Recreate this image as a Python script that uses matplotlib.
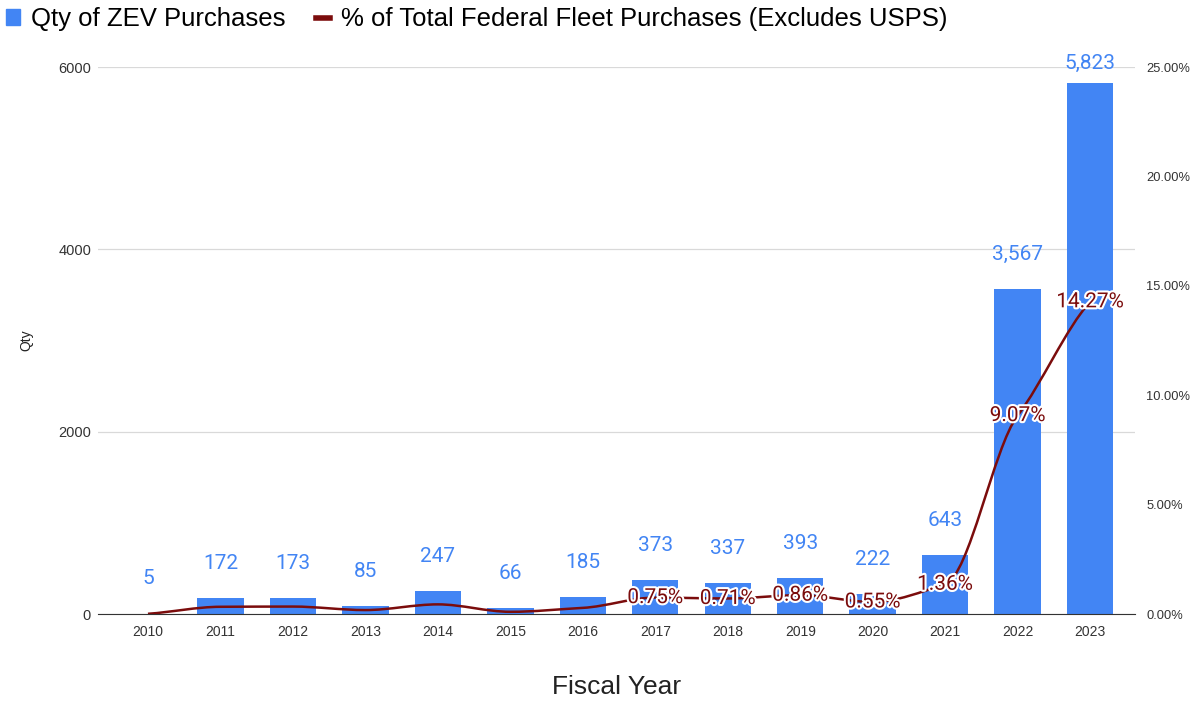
import numpy as np
import matplotlib
matplotlib.use("Agg")
import matplotlib.pyplot as plt
import matplotlib.patheffects as pe
from matplotlib.path import Path
from matplotlib.patches import PathPatch, Patch
from matplotlib.lines import Line2D

plt.rcParams['font.family'] = ['Liberation Sans', 'DejaVu Sans']

years = ["2010", "2011", "2012", "2013", "2014", "2015", "2016",
         "2017", "2018", "2019", "2020", "2021", "2022", "2023"]
qty = [5, 172, 173, 85, 247, 66, 185, 373, 337, 393, 222, 643, 3567, 5823]
pct = [0.01, 0.33, 0.34, 0.18, 0.44, 0.10, 0.28,
       0.75, 0.71, 0.86, 0.55, 1.36, 9.07, 14.27]
pct_labels = [None] * 7 + ["0.75%", "0.71%", "0.86%", "0.55%", "1.36%", "9.07%", "14.27%"]

BLUE = "#4285F4"
RED = "#7B0C0C"

fig = plt.figure(figsize=(11.93, 7.03), dpi=100)
ax = fig.add_axes([0.0821, 0.1266, 0.8693, 0.778])
ax2 = ax.twinx()

x = np.arange(len(years))
ax.bar(x, qty, width=0.64, color=BLUE, zorder=2)
for xi, v in zip(x, qty):
    off = 25 if v < 5500 else 14
    ax.annotate("{:,}".format(v), (xi, v), xytext=(0, off), textcoords="offset points",
                ha="center", va="center", color=BLUE, fontsize=15, family="Roboto")

ax.set_ylim(0, 6000)
ax.set_yticks([0, 2000, 4000, 6000])
ax.set_xlim(-0.69, 13.62)
ax.set_xticks(x)
ax.set_xticklabels(years)
ax.grid(axis="y", color="#d9d9d9", lw=0.9, zorder=0)
ax.set_axisbelow(True)
for s in ["top", "right", "left"]:
    ax.spines[s].set_visible(False)
ax.spines["bottom"].set_color("#333333")
ax.tick_params(axis="both", length=0, labelsize=10, colors="#333333")
ax.tick_params(axis="y", labelsize=10.5, pad=5)
ax.tick_params(axis="x", pad=8)
ax.set_ylabel("Qty", fontsize=10, color="#222222", labelpad=18)
ax.set_xlabel("Fiscal Year", fontsize=19, color="#222222", labelpad=26)

# smooth line through the points, monotone tangents so it does not overshoot
px = x.astype(float)
py = np.array(pct, dtype=float)
d = np.diff(py)
m = np.zeros_like(py)
m[0], m[-1] = d[0], d[-1]
for i in range(1, len(py) - 1):
    if d[i - 1] * d[i] > 0:
        m[i] = 2 * d[i - 1] * d[i] / (d[i - 1] + d[i])
m *= 0.7
verts = [(px[0], py[0])]
codes = [Path.MOVETO]
for i in range(len(py) - 1):
    verts += [(px[i] + 1 / 3, py[i] + m[i] / 3),
              (px[i + 1] - 1 / 3, py[i + 1] - m[i + 1] / 3),
              (px[i + 1], py[i + 1])]
    codes += [Path.CURVE4] * 3
ax2.add_patch(PathPatch(Path(verts, codes), facecolor="none", edgecolor=RED, lw=1.8, zorder=3))
ax2.set_ylim(0, 25)
ax2.set_yticks([0, 5, 10, 15, 20, 25])
ax2.set_yticklabels(["{:.2f}%".format(t) for t in [0, 5, 10, 15, 20, 25]])
ax2.tick_params(axis="y", length=0, labelsize=9.3, colors="#333333", pad=8)
for s in ["top", "right", "left", "bottom"]:
    ax2.spines[s].set_visible(False)

for xi, p, lab in zip(x, pct, pct_labels):
    if lab:
        ax2.text(xi, p, lab, ha="center", va="center", color=RED, fontsize=15,
                 family="Roboto", zorder=4,
                 path_effects=[pe.withStroke(linewidth=3, foreground="white")])

handles = [Patch(color=BLUE), Line2D([0], [0], color=RED, lw=4)]
fig.legend(handles, ["Qty of ZEV Purchases", "% of Total Federal Fleet Purchases (Excludes USPS)"],
           loc="upper left", bbox_to_anchor=(-0.008, 1.012), ncol=2, frameon=False,
           fontsize=18.5, handlelength=0.55, handleheight=0.55, handletextpad=0.42,
           columnspacing=1.2, borderaxespad=0.2)

fig.savefig("out.png", dpi=100)
